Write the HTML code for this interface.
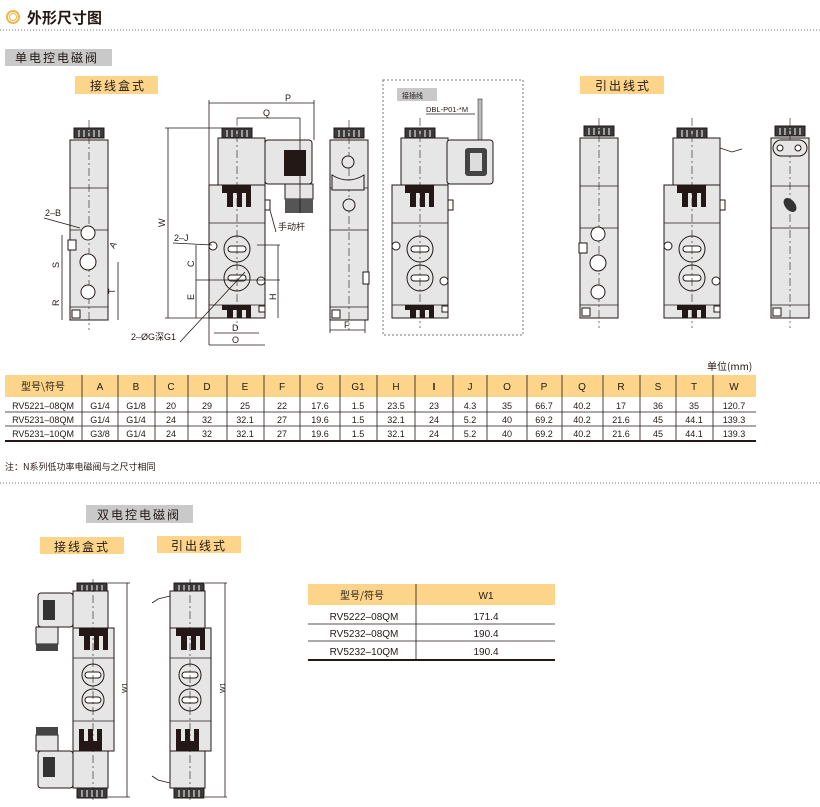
<!DOCTYPE html>
<html><head><meta charset="utf-8"><style>
body{margin:0;background:#fff}
svg{display:block}
text{font-family:"Liberation Sans","Noto Sans CJK SC",sans-serif;fill:#231815}
.c{font-family:"Noto Sans CJK SC","WenQuanYi Zen Hei",sans-serif}
.b{fill:#e6e6e6;stroke:#231815;stroke-width:1}
.w{fill:#fff;stroke:#231815;stroke-width:1}
.l{stroke:#231815;stroke-width:0.8;fill:none}
.d{stroke:#231815;stroke-width:0.6;stroke-dasharray:8 3 2 3;fill:none}
</style></head><body>
<svg width="820" height="807" viewBox="0 0 820 807" xmlns="http://www.w3.org/2000/svg">
<defs>
<g id="cap"><rect x="0" y="0" width="30" height="10" fill="#3a3a3a" stroke="#231815"/><g stroke="#fff" stroke-width="1"><line x1="5" y1="2" x2="5" y2="9"/><line x1="10" y1="2" x2="10" y2="9"/><line x1="15" y1="2" x2="15" y2="9"/><line x1="20" y1="2" x2="20" y2="9"/><line x1="25" y1="2" x2="25" y2="9"/></g></g>
<g id="fins"><path d="M0 0h29v22h-5v-14h-4v14h-5v-14h-4v14h-6v-14h-5z" fill="#231815"/></g>
<g id="front">
<use href="#cap" x="13" y="0"/>
<rect class="b" x="9" y="10" width="47" height="47"/>
<rect class="b" x="0" y="57" width="56" height="133"/>
<line class="l" x1="0" y1="95" x2="56" y2="95"/><line class="l" x1="0" y1="177" x2="56" y2="177"/>
<use href="#fins" x="13" y="57"/>
<path d="M13 190v-13h29v13h-5v-8h-4v8h-5v-8h-4v8h-6v-8h-5z" fill="#231815"/>
<circle class="b" cx="28" cy="121" r="13"/><rect class="w" x="19" y="118" width="18" height="6" rx="3"/>
<circle class="b" cx="28" cy="150" r="13"/><rect class="w" x="19" y="147" width="18" height="6" rx="3"/>
<circle class="w" cx="4" cy="118" r="4"/><circle class="w" cx="52" cy="153" r="4"/>
<rect class="w" x="50" y="178" width="6" height="6"/><rect class="w" x="56" y="72" width="5" height="10"/>
<line class="d" x1="28" y1="-10" x2="28" y2="200"/>
</g>
<g id="side">
<use href="#cap" x="4" y="-12"/>
<rect class="b" x="0" y="0" width="38" height="180"/>
<line class="l" x1="0" y1="48" x2="38" y2="48"/><line class="l" x1="0" y1="90" x2="38" y2="90"/><line class="l" x1="0" y1="167" x2="38" y2="167"/>
<rect class="w" x="2" y="170" width="8" height="8"/>
<line class="d" x1="19" y1="-20" x2="19" y2="190"/>
</g>
<g id="dbl">
<use href="#cap" x="4" y="-8"/>
<rect class="b" x="0" y="0" width="35" height="37"/>
<rect class="b" x="0" y="37" width="41" height="123"/>
<use href="#fins" x="6" y="37"/>
<path d="M6 160v-22h5v12h4v-12h5v12h4v-12h5v22z" fill="#231815"/>
<line class="l" x1="0" y1="67" x2="41" y2="67"/><line class="l" x1="0" y1="130" x2="41" y2="130"/>
<circle class="b" cx="20" cy="84" r="11"/><rect class="w" x="12" y="81" width="16" height="6" rx="3"/>
<circle class="b" cx="20" cy="109" r="11"/><rect class="w" x="12" y="106" width="16" height="6" rx="3"/>
<rect class="b" x="0" y="160" width="35" height="37"/>
<use href="#cap" x="4" y="197"/>
<line class="d" x1="20" y1="-12" x2="20" y2="212"/>
</g>
</defs>
<!-- header -->
<circle cx="13" cy="17" r="6" fill="none" stroke="#f2b64a" stroke-width="2"/><circle cx="13" cy="17" r="3.5" fill="none" stroke="#f2b64a" stroke-width="1"/>
<text x="27" y="23" class="c" font-size="15" font-weight="bold">外形尺寸图</text>
<line x1="0" y1="30" x2="820" y2="30" stroke="#777" stroke-dasharray="1 2"/>
<rect x="5" y="49" width="107" height="17" fill="#c9c9c9"/><text x="15" y="62" class="c" font-size="12" letter-spacing="2">单电控电磁阀</text>
<rect x="75" y="76" width="83" height="18" fill="#fdd58a"/><text x="90" y="90" class="c" font-size="12" letter-spacing="2">接线盒式</text>
<rect x="580" y="76" width="84" height="18" fill="#fdd58a"/><text x="595" y="90" class="c" font-size="12" letter-spacing="2">引出线式</text>
<!-- valve 1 side -->
<use href="#side" x="70" y="140"/>
<circle class="w" cx="88" cy="233" r="7"/><circle class="w" cx="88" cy="262" r="8"/><circle class="w" cx="88" cy="292" r="7"/>
<rect class="w" x="68" y="240" width="8" height="10"/>
<line class="l" x1="62" y1="235" x2="62" y2="320"/><line class="l" x1="118" y1="262" x2="118" y2="320"/>
<text x="45" y="216" font-size="9">2–B</text><line class="l" x1="44" y1="218" x2="80" y2="228"/>
<text x="53" y="268" font-size="9" transform="rotate(-90 56 265)">S</text><text x="53" y="306" font-size="9" transform="rotate(-90 56 303)">R</text>
<text x="109" y="294" font-size="9" transform="rotate(-90 112 291)">T</text><text x="110" y="248" font-size="9" transform="rotate(-60 113 245)">A</text>
<!-- valve 2 front -->
<use href="#front" x="209" y="128"/>
<rect class="b" x="265" y="140" width="47" height="44" rx="3"/><rect x="284" y="150" width="22" height="26" fill="#231815"/>
<rect class="b" x="285" y="184" width="28" height="15"/><rect x="285" y="199" width="28" height="14" fill="#555"/>
<line class="l" x1="209" y1="100" x2="209" y2="345"/><line class="l" x1="314" y1="100" x2="314" y2="140"/><line class="l" x1="209" y1="103" x2="314" y2="103"/>
<text x="285" y="101" font-size="9">P</text>
<line class="l" x1="237" y1="118" x2="300" y2="118"/><line class="l" x1="300" y1="118" x2="300" y2="213"/><text x="263" y="116" font-size="9">Q</text>
<line class="l" x1="165" y1="128" x2="222" y2="128"/><line class="l" x1="168" y1="128" x2="168" y2="318"/><line class="l" x1="165" y1="318" x2="209" y2="318"/>
<text x="158" y="226" font-size="9" transform="rotate(-90 162 223)">W</text>
<line class="l" x1="196" y1="245" x2="196" y2="318"/><line class="l" x1="257" y1="245" x2="280" y2="245"/><line class="l" x1="278" y1="245" x2="278" y2="318"/>
<line class="l" x1="196" y1="280" x2="280" y2="280"/>
<text x="188" y="267" font-size="9" transform="rotate(-90 191 264)">C</text><text x="188" y="300" font-size="9" transform="rotate(-90 191 297)">E</text><text x="270" y="300" font-size="9" transform="rotate(-90 273 297)">H</text>
<line class="l" x1="214" y1="333" x2="259" y2="333"/><text x="232" y="331" font-size="9">D</text>
<line class="l" x1="209" y1="345" x2="265" y2="345"/><text x="232" y="343" font-size="9">O</text>
<text x="174" y="241" font-size="9">2–J</text><line class="l" x1="173" y1="243" x2="212" y2="245"/>
<text x="131" y="340" font-size="9">2–ØG深G1</text><line class="l" x1="180" y1="342" x2="245" y2="272"/>
<text x="278" y="230" class="c" font-size="9">手动杆</text><line class="l" x1="276" y1="232" x2="270" y2="210"/>
<!-- valve 3 side -->
<use href="#side" x="330" y="140"/>
<circle class="b" cx="348" cy="162" r="6"/><path class="b" d="M332 175q16 10 32 0v15h-32z"/><circle class="b" cx="349" cy="205" r="6"/>
<rect class="w" x="363" y="272" width="6" height="12"/>
<line class="l" x1="330" y1="320" x2="330" y2="333"/><line class="l" x1="365" y1="320" x2="365" y2="333"/><line class="l" x1="330" y1="330" x2="365" y2="330"/><text x="344" y="328" font-size="9">F</text>
<!-- dashed box -->
<rect x="383" y="80" width="140" height="255" fill="none" stroke="#777" stroke-dasharray="2 2"/>
<rect x="397" y="88" width="40" height="13" fill="#c9c9c9"/><text x="402" y="98" class="c" font-size="7">接插线</text>
<text x="426" y="112" font-size="7.5">DBL-P01-*M</text><line class="l" x1="426" y1="114" x2="475" y2="114"/>
<rect x="478" y="99" width="4" height="42" fill="#bbb" stroke="#231815" stroke-width="0.5"/>
<use href="#front" x="392" y="128"/>
<rect class="b" x="447" y="140" width="46" height="44" rx="3"/><rect x="465" y="148" width="22" height="28" rx="3" fill="#444"/><rect x="470" y="153" width="12" height="18" fill="#ddd"/>
<!-- right group -->
<use href="#side" x="580" y="138"/>
<circle class="w" cx="598" cy="234" r="7"/><circle class="w" cx="598" cy="263" r="8"/><circle class="w" cx="598" cy="292" r="7"/><rect class="w" x="579" y="243" width="8" height="10"/>
<use href="#front" x="664" y="128"/>
<path class="l" d="M720 148l12 4l10 -3" stroke-width="2"/>
<use href="#side" x="771" y="138"/>
<rect class="b" x="773" y="140" width="34" height="16" rx="8"/><circle class="w" cx="780" cy="148" r="3"/><circle class="w" cx="798" cy="148" r="3"/>
<ellipse cx="790" cy="205" rx="5" ry="8" fill="#333" transform="rotate(-40 790 205)"/>
<!-- table 1 -->
<text x="707" y="370" class="c" font-size="10">单位(mm)</text>
<rect x="5" y="375" width="751" height="22" fill="#fdd58a"/>
<g font-size="9" text-anchor="middle">
<text x="43" y="390" class="c" font-size="10">型号\符号</text>
<text x="100" y="390" font-size="10">A</text><text x="136" y="390" font-size="10">B</text><text x="171" y="390" font-size="10">C</text><text x="207" y="390" font-size="10">D</text><text x="245" y="390" font-size="10">E</text><text x="282" y="390" font-size="10">F</text><text x="320" y="390" font-size="10">G</text><text x="358" y="390" font-size="10">G1</text><text x="396" y="390" font-size="10">H</text><text x="434" y="390" font-size="10" font-weight="bold">I</text><text x="470" y="390" font-size="10">J</text><text x="507" y="390" font-size="10">O</text><text x="544" y="390" font-size="10">P</text><text x="582" y="390" font-size="10">Q</text><text x="621" y="390" font-size="10">R</text><text x="658" y="390" font-size="10">S</text><text x="694" y="390" font-size="10">T</text><text x="734" y="390" font-size="10">W</text>
<text x="43" y="409">RV5221–08QM</text><text x="100" y="409">G1/4</text><text x="136" y="409">G1/8</text><text x="171" y="409">20</text><text x="207" y="409">29</text><text x="245" y="409">25</text><text x="282" y="409">22</text><text x="320" y="409">17.6</text><text x="358" y="409">1.5</text><text x="396" y="409">23.5</text><text x="434" y="409">23</text><text x="470" y="409">4.3</text><text x="507" y="409">35</text><text x="544" y="409">66.7</text><text x="582" y="409">40.2</text><text x="621" y="409">17</text><text x="658" y="409">36</text><text x="694" y="409">35</text><text x="734" y="409">120.7</text>
<text x="43" y="423">RV5231–08QM</text><text x="100" y="423">G1/4</text><text x="136" y="423">G1/4</text><text x="171" y="423">24</text><text x="207" y="423">32</text><text x="245" y="423">32.1</text><text x="282" y="423">27</text><text x="320" y="423">19.6</text><text x="358" y="423">1.5</text><text x="396" y="423">32.1</text><text x="434" y="423">24</text><text x="470" y="423">5.2</text><text x="507" y="423">40</text><text x="544" y="423">69.2</text><text x="582" y="423">40.2</text><text x="621" y="423">21.6</text><text x="658" y="423">45</text><text x="694" y="423">44.1</text><text x="734" y="423">139.3</text>
<text x="43" y="437">RV5231–10QM</text><text x="100" y="437">G3/8</text><text x="136" y="437">G1/4</text><text x="171" y="437">24</text><text x="207" y="437">32</text><text x="245" y="437">32.1</text><text x="282" y="437">27</text><text x="320" y="437">19.6</text><text x="358" y="437">1.5</text><text x="396" y="437">32.1</text><text x="434" y="437">24</text><text x="470" y="437">5.2</text><text x="507" y="437">40</text><text x="544" y="437">69.2</text><text x="582" y="437">40.2</text><text x="621" y="437">21.6</text><text x="658" y="437">45</text><text x="694" y="437">44.1</text><text x="734" y="437">139.3</text>
</g>
<g stroke="#231815" stroke-width="0.8">
<line x1="5" y1="412" x2="756" y2="412"/><line x1="5" y1="426" x2="756" y2="426"/>
<path d="M82 375V440M118 375V440M155 375V440M188 375V440M227 375V440M264 375V440M300 375V440M340 375V440M377 375V440M415 375V440M453 375V440M487 375V440M527 375V440M562 375V440M603 375V440M640 375V440M676 375V440M713 375V440"/>
</g>
<rect x="5" y="440" width="751" height="2" fill="#231815"/>
<text x="5" y="470" class="c" font-size="9">注：N系列低功率电磁阀与之尺寸相同</text>
<line x1="0" y1="483" x2="820" y2="483" stroke="#777" stroke-dasharray="1 2"/>
<!-- double -->
<rect x="86" y="505" width="107" height="18" fill="#c9c9c9"/><text x="97" y="519" class="c" font-size="12" letter-spacing="2">双电控电磁阀</text>
<rect x="40" y="537" width="84" height="17" fill="#fdd58a"/><text x="54" y="551" class="c" font-size="12" letter-spacing="2">接线盒式</text>
<rect x="157" y="536" width="84" height="17" fill="#fdd58a"/><text x="171" y="550" class="c" font-size="12" letter-spacing="2">引出线式</text>
<use href="#dbl" x="73" y="591"/>
<rect class="b" x="38" y="593" width="35" height="34" rx="3"/><rect x="43" y="600" width="12" height="20" fill="#333"/><rect class="b" x="36" y="627" width="22" height="17"/><rect x="36" y="644" width="22" height="7" fill="#444"/>
<rect class="b" x="38" y="751" width="35" height="37" rx="3"/><rect x="43" y="757" width="12" height="20" fill="#333"/><rect class="b" x="36" y="735" width="22" height="16"/><rect x="36" y="727" width="22" height="8" fill="#444"/>
<line class="l" x1="108" y1="583" x2="130" y2="583"/><line class="l" x1="127" y1="583" x2="127" y2="797"/><line class="l" x1="108" y1="797" x2="130" y2="797"/>
<text x="121" y="693" font-size="7" transform="rotate(-90 124 690)">W1</text>
<use href="#dbl" x="170" y="591"/>
<path class="l" d="M170 596l-12 3l-6 4M170 783l-12 -3l-6 -4" stroke-width="1.5"/>
<line class="l" x1="205" y1="583" x2="227" y2="583"/><line class="l" x1="225" y1="583" x2="225" y2="797"/><line class="l" x1="205" y1="797" x2="227" y2="797"/>
<text x="219" y="693" font-size="7" transform="rotate(-90 222 690)">W1</text>
<!-- table 2 -->
<rect x="308" y="584" width="247" height="21" fill="#fdd58a"/>
<line x1="416" y1="584" x2="416" y2="660" stroke="#231815" stroke-width="0.8"/>
<line x1="308" y1="624" x2="555" y2="624" stroke="#231815" stroke-width="0.8"/><line x1="308" y1="641" x2="555" y2="641" stroke="#231815" stroke-width="0.8"/>
<rect x="308" y="659" width="247" height="2" fill="#231815"/>
<g font-size="10" text-anchor="middle">
<text x="362" y="599" class="c">型号/符号</text><text x="486" y="599">W1</text>
<text x="364" y="620">RV5222–08QM</text><text x="486" y="620">171.4</text>
<text x="364" y="637">RV5232–08QM</text><text x="486" y="637">190.4</text>
<text x="364" y="655">RV5232–10QM</text><text x="486" y="655">190.4</text>
</g>
</svg>
</body></html>
